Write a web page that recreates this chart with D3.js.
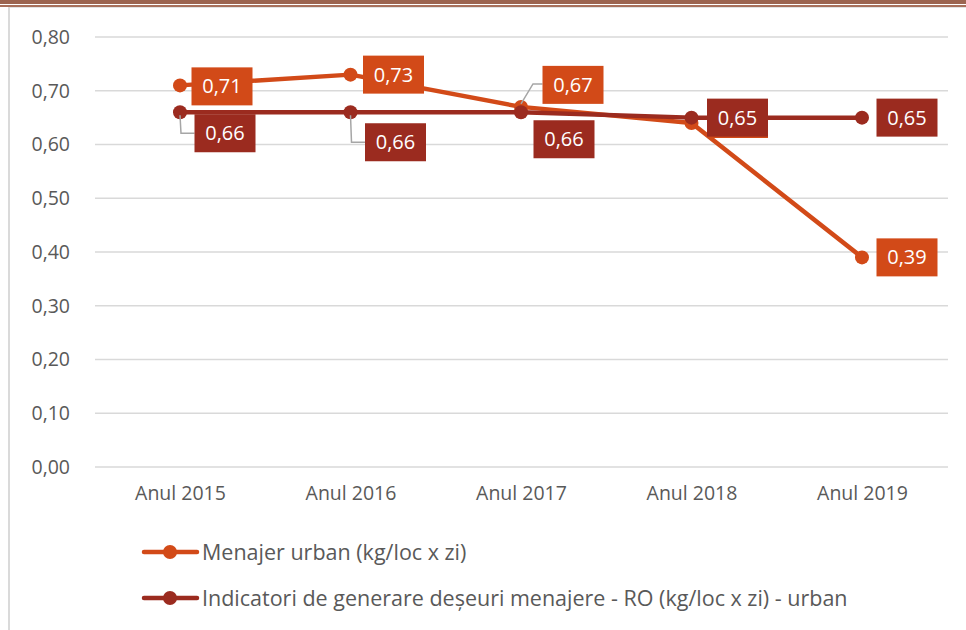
<!DOCTYPE html>
<html>
<head>
<meta charset="utf-8">
<script src="https://cdn.jsdelivr.net/npm/d3@7"></script>
<style>
  body { margin: 0; background: #fff; }
  svg text { font-family: "Open Sans", Lato, sans-serif; }
</style>
</head>
<body>
<script>
// chart values
var years = ['Anul 2015', 'Anul 2016', 'Anul 2017', 'Anul 2018', 'Anul 2019'];
var urban = [0.71, 0.73, 0.67, 0.64, 0.39];
var indicator = [0.66, 0.66, 0.66, 0.65, 0.65];
var yTicks = [0, 0.1, 0.2, 0.3, 0.4, 0.5, 0.6, 0.7, 0.8];
var seriesNames = ['Menajer urban (kg/loc x zi)',
    'Indicatori de generare deșeuri menajere - RO (kg/loc x zi) - urban'];

var width = 966, height = 630;
var orange = '#d24a18', darkRed = '#9b2b1f';

var svg = d3.select('body').append('svg')
    .attr('width', width)
    .attr('height', height);

// page frame: brown strip at top and light border
svg.append('rect').attr('x', 0).attr('y', 0).attr('width', width).attr('height', 4).attr('fill', '#9c6450');
svg.append('rect').attr('x', 0).attr('y', 5).attr('width', width).attr('height', 2).attr('fill', '#a8705c');
svg.append('line').attr('x1', 9).attr('x2', width).attr('y1', 7.5).attr('y2', 7.5)
    .attr('stroke', '#e3e3e3').attr('stroke-width', 1);
svg.append('line').attr('x1', 9).attr('x2', 9).attr('y1', 7).attr('y2', height)
    .attr('stroke', '#dadada').attr('stroke-width', 2);

var x = d3.scalePoint().domain(years).range([180, 862]);
var y = d3.scaleLinear().domain([0, 0.8]).range([467, 37]);

var fmt = function(v) { return d3.format('.2f')(v).replace('.', ','); };

// grid
svg.append('g').selectAll('line')
    .data(yTicks)
    .enter().append('line')
    .attr('x1', 95).attr('x2', 948)
    .attr('y1', function(d) { return y(d); })
    .attr('y2', function(d) { return y(d); })
    .attr('stroke', '#d9d9d9').attr('stroke-width', 1.5);

// y axis labels
var yAxis = svg.append('g')
    .attr('transform', 'translate(70,0)')
    .call(d3.axisLeft(y).tickValues(yTicks).tickSize(0).tickPadding(0).tickFormat(fmt));
yAxis.select('.domain').remove();
yAxis.selectAll('text').attr('font-size', 19.5).attr('fill', '#595959')
    .attr('font-family', '"Open Sans", sans-serif');

// x axis labels
var xAxis = svg.append('g')
    .attr('transform', 'translate(0,486)')
    .call(d3.axisBottom(x).tickSize(0).tickPadding(0));
xAxis.select('.domain').remove();
xAxis.selectAll('text').attr('font-size', 19.5).attr('fill', '#595959')
    .attr('font-family', '"Open Sans", sans-serif');

var line = d3.line()
    .x(function(d, i) { return x(years[i]); })
    .y(function(d) { return y(d); });

function drawSeries(values, color) {
    svg.append('path')
        .datum(values)
        .attr('d', line)
        .attr('fill', 'none')
        .attr('stroke', color)
        .attr('stroke-width', 4.5)
        .attr('stroke-linejoin', 'round');
    svg.append('g').selectAll('circle')
        .data(values)
        .enter().append('circle')
        .attr('cx', function(d, i) { return x(years[i]); })
        .attr('cy', function(d) { return y(d); })
        .attr('r', 7)
        .attr('fill', color);
}

drawSeries(urban, orange);
drawSeries(indicator, darkRed);

// data label offsets: [dx, dy] of the box centre from its point, leader line flag, text shown
var urbanOffsets = [[42, 1, 0, 1], [43, 0, 0, 1], [52, -22, 1, 1], [46, -4, 0, 0], [45, 0, 0, 1]];
var indicatorOffsets = [[45, 21, 1, 1], [45, 30, 1, 1], [43, 27, 0, 1], [46, 0, 0, 1], [45, 0, 0, 1]];

function drawLabels(values, offsets, color) {
    var g = svg.append('g');
    values.forEach(function(v, i) {
        var px = x(years[i]), py = y(v);
        var cx = px + offsets[i][0], cy = py + offsets[i][1];
        var bw = 61, bh = 38;
        if (offsets[i][2]) {
            var left = cx - bw / 2;
            var pts = offsets[i][1] > 0
                ? [[px, py + 3], [px + 1, cy], [left, cy]]
                : [[px, py - 3], [px + 12, cy - 1], [left, cy - 1]];
            g.append('path')
                .attr('d', d3.line()(pts))
                .attr('fill', 'none')
                .attr('stroke', '#a6a6a6')
                .attr('stroke-width', 1.5);
        }
        g.append('rect')
            .attr('x', cx - bw / 2).attr('y', cy - bh / 2)
            .attr('width', bw).attr('height', bh)
            .attr('fill', color);
        // the 2018 urban label sits under the other series' label, so its text is not visible
        if (offsets[i][3]) {
            g.append('text')
                .attr('x', cx).attr('y', cy)
                .attr('dy', '0.35em')
                .attr('text-anchor', 'middle')
                .attr('font-size', 20)
                .attr('fill', '#fff')
                .text(fmt(v));
        }
    });
}

drawLabels(urban, urbanOffsets, orange);
drawLabels(indicator, indicatorOffsets, darkRed);

// legend
var legend = svg.append('g').selectAll('g')
    .data(seriesNames)
    .enter().append('g')
    .attr('transform', function(d, i) { return 'translate(0,' + (552 + i * 46) + ')'; });

legend.append('line')
    .attr('x1', 144).attr('x2', 197).attr('y1', 0).attr('y2', 0)
    .attr('stroke', function(d, i) { return i ? darkRed : orange; })
    .attr('stroke-width', 4.5)
    .attr('stroke-linecap', 'round');
legend.append('circle')
    .attr('cx', 170).attr('cy', 0).attr('r', 7)
    .attr('fill', function(d, i) { return i ? darkRed : orange; });
legend.append('text')
    .attr('x', 202).attr('y', 0).attr('dy', '0.35em')
    .attr('font-size', 21.5)
    .attr('fill', '#595959')
    .text(function(d) { return d; });
</script>
</body>
</html>
